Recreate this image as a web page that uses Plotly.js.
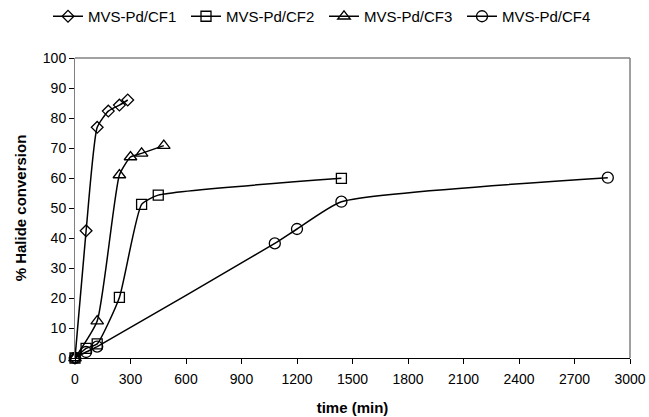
<!DOCTYPE html>
<html>
<head>
<meta charset="utf-8">
<script src="https://cdn.plot.ly/plotly-3.0.1.min.js"></script>
<style>html,body{margin:0;padding:0;background:#fff;}#chart{width:649px;height:417px;}</style>
</head>
<body>
<div id="chart"></div>
<script>
const seriesNames = ["MVS-Pd/CF1", "MVS-Pd/CF2", "MVS-Pd/CF3", "MVS-Pd/CF4"];
const cf1Time = [0, 60, 120, 180, 240, 285];
const cf1Conv = [0, 42.4, 76.9, 82.3, 84.3, 86];
const cf2Time = [0, 60, 120, 240, 360, 450, 1440];
const cf2Conv = [0, 3.2, 4.7, 20.2, 51.2, 54.3, 59.9];
const cf3Time = [0, 120, 240, 300, 360, 480];
const cf3Conv = [0, 12.3, 61, 67, 68.2, 70.8];
const cf4Time = [0, 60, 120, 1080, 1200, 1440, 2880];
const cf4Conv = [0, 2, 3.8, 38.2, 43, 52.1, 60.1];
const xTicks = [0, 300, 600, 900, 1200, 1500, 1800, 2100, 2400, 2700, 3000];
const yTicks = [0, 10, 20, 30, 40, 50, 60, 70, 80, 90, 100];

const symbols = ["diamond-open", "square-open", "triangle-up-open", "circle-open"];
const sizes = [9, 10, 11, 11];
const xs = [cf1Time, cf2Time, cf3Time, cf4Time];
const ys = [cf1Conv, cf2Conv, cf3Conv, cf4Conv];

const traces = seriesNames.map((n, i) => ({
  x: xs[i], y: ys[i], name: n, type: 'scatter', mode: 'lines+markers',
  line: {color: '#000', width: 1.5, shape: 'spline', smoothing: 0.5},
  marker: {symbol: symbols[i], size: sizes[i], color: '#000', line: {color: '#000', width: 1.3}},
  cliponaxis: false
}));

const layout = {
  width: 649, height: 417,
  margin: {l: 75, r: 19, t: 58, b: 59},
  paper_bgcolor: '#fff', plot_bgcolor: '#fff',
  font: {family: 'Liberation Sans, Arial, sans-serif', size: 14, color: '#000'},
  showlegend: true,
  legend: {orientation: 'h', x: 48 / 649, xref: 'container', xanchor: 'left', y: 1.0, yref: 'container', yanchor: 'top',
           font: {size: 15}, entrywidth: 93, entrywidthmode: 'pixels', tracegroupgap: 0, itemclick: false},
  xaxis: {
    range: [0, 3000], tickvals: xTicks, ticktext: xTicks.map(String),
    showgrid: false, zeroline: false, showline: true, linecolor: '#000', linewidth: 1,
    mirror: false, ticks: 'outside', ticklen: 5, tickcolor: '#000',
    tickfont: {size: 14}, ticklabelstandoff: 3,
    title: {text: '<b>time (min)</b>', font: {size: 15}, standoff: 16}
  },
  yaxis: {
    range: [0, 100], tickvals: yTicks, ticktext: yTicks.map(String),
    showgrid: false, zeroline: false, showline: true, linecolor: '#808080', linewidth: 1,
    ticks: 'outside', ticklen: 5, tickcolor: '#000',
    tickfont: {size: 14},
    title: {text: '<b>% Halide conversion</b>', font: {size: 15}, standoff: 12}
  },
  shapes: [
    {type: 'line', xref: 'paper', yref: 'paper', x0: 0, x1: 1, y0: 1, y1: 1, line: {color: '#444', width: 1.2}},
    {type: 'line', xref: 'paper', yref: 'paper', x0: 1, x1: 1, y0: 0, y1: 1, line: {color: '#808080', width: 1.5}}
  ]
};

Plotly.newPlot('chart', traces, layout, {displayModeBar: false, staticPlot: true});
</script>
</body>
</html>
